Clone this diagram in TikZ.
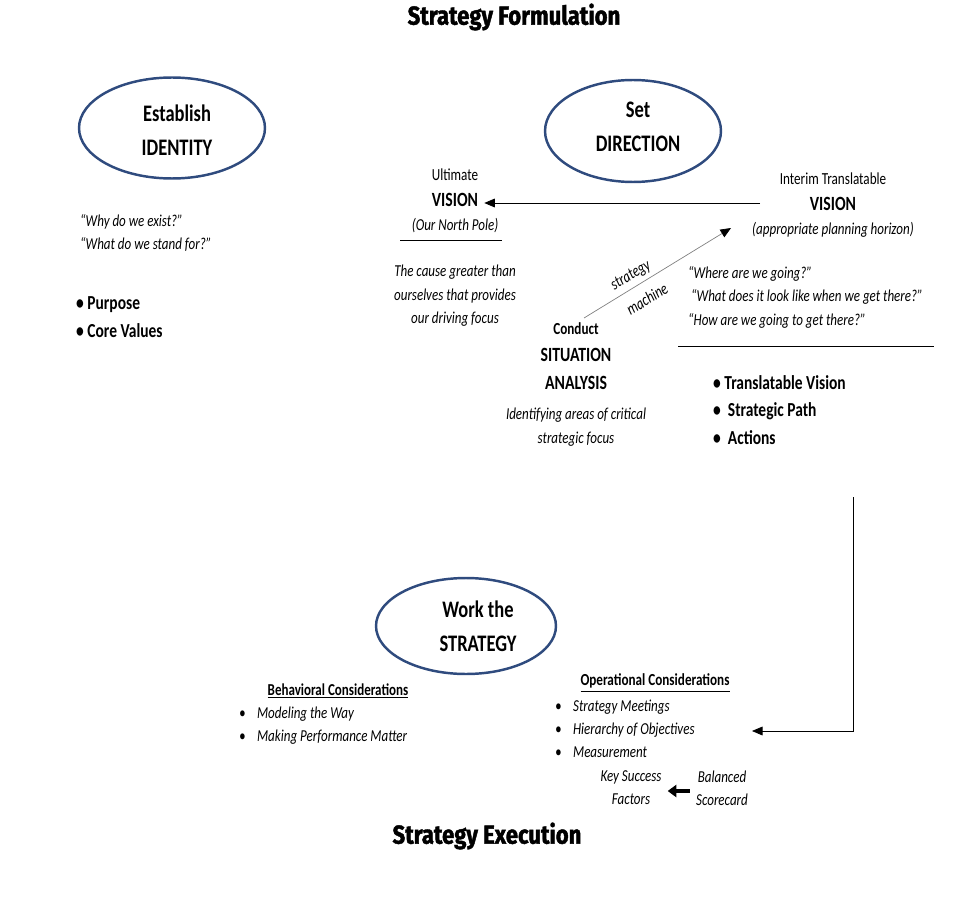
\documentclass[tikz,border=0pt]{standalone}
\usepackage{fontspec}
\setmainfont{Carlito}[FakeStretch=0.78]
\newfontfamily\headfont{Fira Sans}[BoldFeatures={FakeStretch=0.85, FakeBold=1.6}]
\usepackage{xcolor}
\usepackage{tikz}
\usetikzlibrary{arrows.meta,positioning,shapes.geometric}

\definecolor{ringblue}{HTML}{2F4B7E}

\begin{document}
\begin{tikzpicture}[
        x=0.02cm, y=-0.02cm,
        ring/.style={draw=ringblue, line width=1.4pt, ellipse, minimum width=3.6cm, minimum height=2.0cm},
        ringtxt/.style={font=\bfseries\fontsize{13.5}{19.3}\selectfont, align=center},
        head/.style={font=\headfont\bfseries\fontsize{14.8}{18}\selectfont},
        big/.style={font=\bfseries\fontsize{11.5}{15.9}\selectfont, align=center},
        small/.style={font=\fontsize{9.6}{11}\selectfont, align=center},
        note/.style={font=\itshape\fontsize{9.5}{13.4}\selectfont, align=center},
        pts/.style={font=\bfseries\fontsize{11.3}{15.7}\selectfont, align=left, anchor=west},
        items/.style={font=\itshape\fontsize{9.5}{13}\selectfont, align=left, anchor=west},
        arr/.style={-{Triangle[length=6pt,width=5pt,color=black]}, thin}
    ]
        \useasboundingbox (0,0) rectangle (972,905);

        % formulation
        \node[head] (top) at (514,17) {Strategy Formulation};

        \node[ring, minimum width=3.72cm, minimum height=2.02cm] (idring) at (172,128) {};
        \node[ringtxt] (idtxt) at (177,130) {Establish\\IDENTITY};
        \node[note, align=left, anchor=west] (whyq) at (74,233) {``Why do we exist?''\\``What do we stand for?''};
        \node[pts] (idpts) at (70,317) {\textbullet\ Purpose\\\textbullet\ Core Values};

        \node[ring, minimum width=3.52cm, minimum height=2.04cm] (dirring) at (633,131) {};
        \node[ringtxt] (dirtxt) at (638,127) {Set\\DIRECTION};

        \node[small] (ult) at (455,175) {Ultimate};
        \node[big] (uv) at (455,200) {VISION};
        \node[note] (np) at (455,226) {(Our North Pole)};
        \draw (400,240) -- (502,240);
        \node[note] (cause) at (455,296) {The cause greater than\\ourselves that provides\\our driving focus};

        \node[small] (intm) at (833,179) {Interim Translatable};
        \node[big] (iv) at (833,204) {VISION};
        \node[note] (hor) at (833,230) {(appropriate planning horizon)};
        \coordinate (v0) at (760,203);
        \draw[arr] (v0) -- (v0 -| uv.east);

        \node[font=\bfseries\fontsize{9.6}{12}\selectfont] (cond) at (576,329) {Conduct};
        \node[big] (sit) at (576,369) {SITUATION\\ANALYSIS};
        \node[note] (crit) at (576,427) {Identifying areas of critical\\strategic focus};
        \coordinate (m0) at (584,318);
        \coordinate (m1) at (731,228);
        \draw[arr, draw=gray] (m0) -- (m1);
        \node[font=\itshape\fontsize{9.5}{11}\selectfont, rotate=31] (mach1) at (631,276) {strategy};
        \node[font=\itshape\fontsize{9.5}{11}\selectfont, rotate=31] (mach2) at (647,299) {machine};

        \node[note, align=left, anchor=west] (quest) at (682,297) {``Where are we going?''\\\ ``What does it look like when we get there?''\\``How are we going to get there?''};
        \draw (678,346) -- (934,346);
        \node[pts] (dirpts) at (707,410) {\textbullet\ Translatable Vision\\\textbullet\ \ Strategic Path\\\textbullet\ \ Actions};

        % execution
        \node[ring, minimum width=3.6cm, minimum height=1.92cm] (wring) at (466,626) {};
        \node[ringtxt] (wtxt) at (478,626) {Work the\\STRATEGY};

        \node[font=\bfseries\fontsize{9.5}{12}\selectfont] (beh) at (338,691) {\underline{Behavioral Considerations}};
        \node[items] (behl) at (233,726) {\textbullet\hspace{6.5pt}Modeling the Way\\\textbullet\hspace{6.5pt}Making Performance Matter};

        \node[font=\bfseries\fontsize{9.6}{12}\selectfont] (ops) at (655,683) {\underline{Operational Considerations}};
        \node[items] (opsl) at (549,729) {\textbullet\hspace{6.5pt}Strategy Meetings\\\textbullet\hspace{6.5pt}Hierarchy of Objectives\\\textbullet\hspace{6.5pt}Measurement};
        \node[items, anchor=center, align=center] (ksf) at (631,788) {Key Success\\Factors};
        \node[items, anchor=center, align=center] (bsc) at (722,788) {Balanced\\Scorecard};
        \draw[-{Triangle[length=5pt,width=7pt]}, line width=2.4pt] ([yshift=-0.06cm]bsc.west) -- ([yshift=-0.06cm]ksf.east);

        \coordinate (r0) at (853,497);
        \coordinate (r1) at (752,731);
        \draw[arr] (r0) |- (r1);

        \node[head] (bot) at (487,836) {Strategy Execution};
\end{tikzpicture}
\end{document}
